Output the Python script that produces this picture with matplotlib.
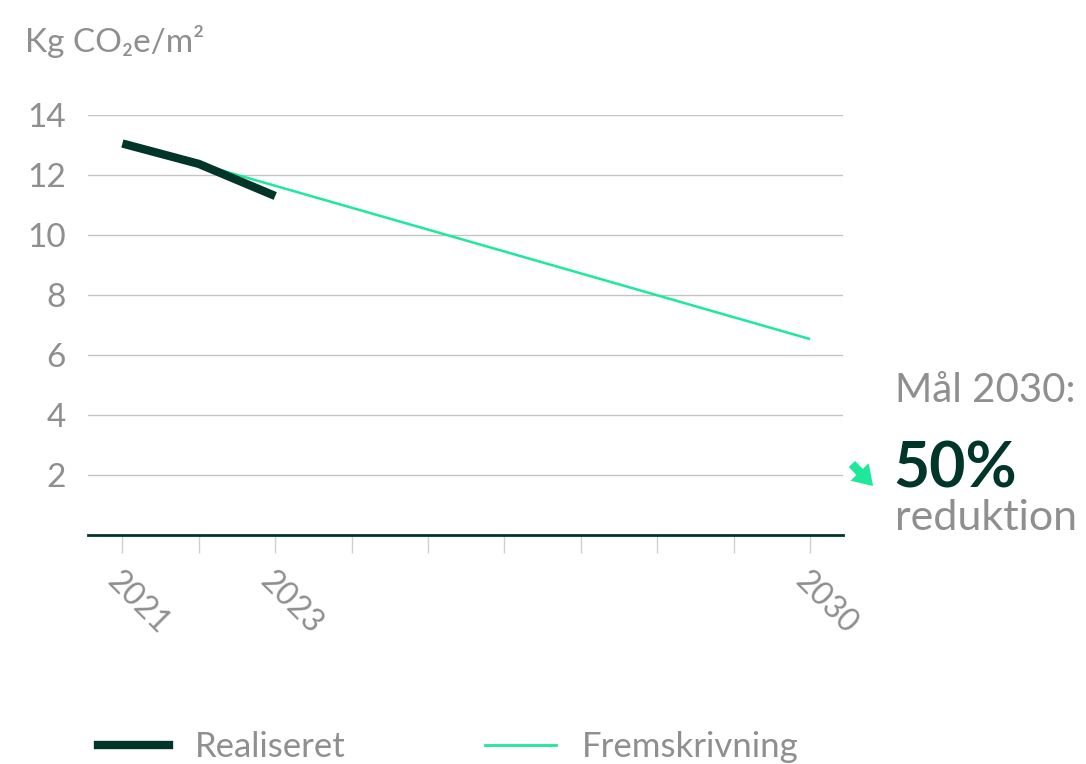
import matplotlib
matplotlib.use("Agg")
import matplotlib.pyplot as plt
from matplotlib.lines import Line2D
from matplotlib.patches import FancyArrowPatch

plt.rcParams['font.family'] = ['Lato', 'DejaVu Sans']

years_real = [2021, 2022, 2023]
values_real = [13.05, 12.37, 11.3]
years_proj = [2022, 2030]
values_proj = [12.37, 6.53]
all_years = list(range(2021, 2031))
labeled_years = [2021, 2023, 2030]
yticks = [2, 4, 6, 8, 10, 12, 14]

DARK = '#01352a'
GREEN = '#1ee89c'
GRAY = '#8f8f8f'
GRID = '#c4c4c4'
W = 'normal'

fig = plt.figure(figsize=(10.86, 7.64), dpi=100)
ax = fig.add_axes([88/1086, 1-535/764, (843-88)/1086, (535-115)/764])

ax.plot(years_proj, values_proj, color=GREEN, lw=1.8, solid_capstyle='butt', zorder=3)
ax.plot(years_real, values_real, color=DARK, lw=6, solid_capstyle='butt', zorder=4)

ax.set_xlim(2020.55, 2030.43)
ax.set_ylim(0, 14)
ax.set_yticks(yticks)
ax.set_yticklabels([str(v) for v in yticks], fontsize=24, color=GRAY, fontweight=W)
ax.yaxis.grid(True, color=GRID, lw=1)
ax.set_axisbelow(True)
ax.tick_params(axis='y', length=0, pad=16)

ax.set_xticks(all_years)
ax.set_xticklabels([str(y) if y in labeled_years else '' for y in all_years],
                   rotation=-45, ha='left', va='top', rotation_mode='anchor',
                   fontsize=23, color=GRAY, fontweight=W)
ax.tick_params(axis='x', length=13, width=1, color='#d0d0d0', pad=9)

for s in ['top', 'right', 'left']:
    ax.spines[s].set_visible(False)
ax.spines['bottom'].set_color(DARK)
ax.spines['bottom'].set_linewidth(2)

fig.text(25/1086, 1-42/764, 'Kg CO₂e/m²', fontsize=24, color=GRAY, va='center', ha='left', fontweight=W)

fig.text(895/1086, 1-390/764, 'Mål 2030:', fontsize=29, color=GRAY, va='center', ha='left', fontweight=W)
fig.text(893/1086, 1-470/764, '50%', fontsize=45, color=DARK, va='center', ha='left', fontweight='bold')
fig.text(895/1086, 1-518/764, 'reduktion', fontsize=31, color=GRAY, va='center', ha='left', fontweight=W)
fig.patches.append(FancyArrowPatch(
    (850/1086, 1-462/764), (875/1086, 1-488/764), transform=fig.transFigure,
    arrowstyle='simple,head_width=1.3,head_length=1.0,tail_width=0.45',
    mutation_scale=14, color=GREEN, lw=0))

handles = [Line2D([], [], color=DARK, lw=6), Line2D([], [], color=GREEN, lw=2)]
fig.legend(handles, ['Realiseret', 'Fremskrivning'], loc='center left',
           bbox_to_anchor=(98/1086, 1-747/764), ncol=2, frameon=False,
           borderpad=0, borderaxespad=0,
           handlelength=2.05, handletextpad=0.75, columnspacing=4.0,
           labelcolor=GRAY, prop={'weight': W, 'size': 25})

fig.savefig('out.png', dpi=100)
